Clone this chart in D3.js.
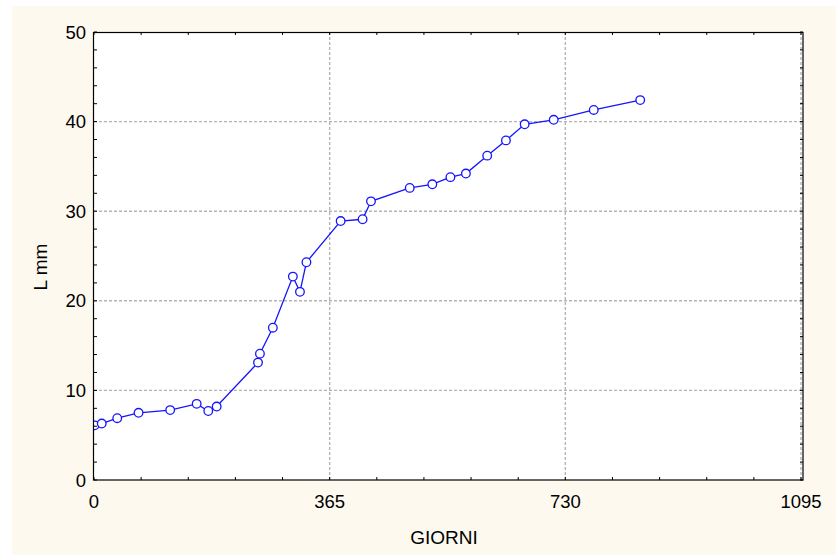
<!DOCTYPE html>
<html>
<head>
<meta charset="utf-8">
<script src="https://cdn.jsdelivr.net/npm/d3@7/dist/d3.min.js"></script>
<style>
  html, body { margin: 0; padding: 0; background: #ffffff; }
  svg { display: block; }
  text { font-family: Arial, "Liberation Sans", sans-serif; fill: #000; }
</style>
</head>
<body>
<svg id="chart" width="836" height="555"></svg>
<script>
// Growth in length (mm) over time (days)
const giorni = [1, 12, 36, 69, 118, 159, 177, 190, 254, 257, 277, 308, 319, 329,
                382, 416, 429, 489, 524, 552, 576, 609, 638, 667, 712, 774, 846];
const lunghezza = [6.1, 6.3, 6.9, 7.5, 7.8, 8.5, 7.7, 8.2, 13.1, 14.1, 17.0, 22.7, 21.0, 24.3,
                   28.9, 29.1, 31.1, 32.6, 33.0, 33.8, 34.2, 36.2, 37.9, 39.7, 40.2, 41.3, 42.4];
const xTicks = [0, 365, 730, 1095];
const yTicks = [0, 10, 20, 30, 40, 50];
const xMinor = d3.range(0, 1095.1, 73);
const yMinor = d3.range(0, 50.1, 2);

const svg = d3.select("#chart");

// cream panel
svg.append("rect").attr("x", 12).attr("y", 6).attr("width", 824).attr("height", 549)
  .attr("fill", "#fdf9ef");

const mLeft = 94, mRight = 801, mTop = 32, mBottom = 480;
const x = d3.scaleLinear().domain([0, 1095]).range([mLeft, mRight]);
const y = d3.scaleLinear().domain([0, 50]).range([mBottom, mTop]);

// plot background
svg.append("rect").attr("x", mLeft - 0.5).attr("y", mTop).attr("width", mRight + 2 - mLeft + 0.5)
  .attr("height", mBottom - mTop).attr("fill", "#ffffff");

svg.append("clipPath").attr("id", "plotclip").append("rect")
  .attr("x", mLeft).attr("y", mTop).attr("width", mRight + 2 - mLeft).attr("height", mBottom - mTop);

// grid
const grid = svg.append("g").attr("stroke", "#b4b4b4").attr("stroke-width", 1.4)
  .attr("stroke-dasharray", "3,2").attr("fill", "none");
grid.selectAll("line.gx").data(xTicks.filter(d => d > 0)).join("line")
  .attr("x1", d => x(d)).attr("x2", d => x(d)).attr("y1", mTop).attr("y2", mBottom);
grid.selectAll("line.gy").data(yTicks.filter(d => d > 0 && d < 50)).join("line")
  .attr("x1", mLeft).attr("x2", mRight + 2).attr("y1", d => y(d)).attr("y2", d => y(d));

// series
const pts = giorni.map((d, i) => [d, lunghezza[i]]);
const plot = svg.append("g").attr("clip-path", "url(#plotclip)");
plot.append("path").datum(pts)
  .attr("d", d3.line().x(d => x(d[0])).y(d => y(d[1])))
  .attr("fill", "none").attr("stroke", "#1414ff").attr("stroke-width", 1.3);
plot.selectAll("circle").data(pts).join("circle")
  .attr("cx", d => x(d[0])).attr("cy", d => y(d[1])).attr("r", 4.3)
  .attr("fill", "#ffffff").attr("stroke", "#1414ff").attr("stroke-width", 1.3);

// minor ticks, inward on all sides
const ticks = svg.append("g").attr("stroke", "#000").attr("stroke-width", 1);
ticks.selectAll("line.tb").data(xMinor).join("line")
  .attr("x1", d => x(d)).attr("x2", d => x(d)).attr("y1", mBottom).attr("y2", mBottom - 3);
ticks.selectAll("line.tt").data(xMinor).join("line")
  .attr("x1", d => x(d)).attr("x2", d => x(d)).attr("y1", mTop).attr("y2", mTop + 3);
ticks.selectAll("line.tl").data(yMinor).join("line")
  .attr("x1", mLeft).attr("x2", mLeft + 3).attr("y1", d => y(d)).attr("y2", d => y(d));
ticks.selectAll("line.tr").data(yMinor).join("line")
  .attr("x1", mRight + 2).attr("x2", mRight - 1).attr("y1", d => y(d)).attr("y2", d => y(d));

// frame
svg.append("rect").attr("x", mLeft - 0.5).attr("y", mTop + 0.5)
  .attr("width", mRight + 2 - mLeft + 0.5).attr("height", mBottom - mTop - 0.5)
  .attr("fill", "none").attr("stroke", "#000").attr("stroke-width", 1.2);

// tick labels
svg.append("g").selectAll("text").data(yTicks).join("text")
  .attr("x", 86).attr("y", d => y(d)).attr("dy", "0.36em")
  .attr("text-anchor", "end").attr("font-size", 18.5).text(d => d);
svg.append("g").selectAll("text").data(xTicks).join("text")
  .attr("x", d => x(d)).attr("y", 508)
  .attr("text-anchor", "middle").attr("font-size", 18.5).text(d => d);

// axis titles
svg.append("text").attr("x", 444).attr("y", 544).attr("text-anchor", "middle")
  .attr("font-size", 19).text("GIORNI");
svg.append("text").attr("transform", "translate(47,267) rotate(-90)")
  .attr("text-anchor", "middle").attr("font-size", 19).text("L mm");
</script>
</body>
</html>
